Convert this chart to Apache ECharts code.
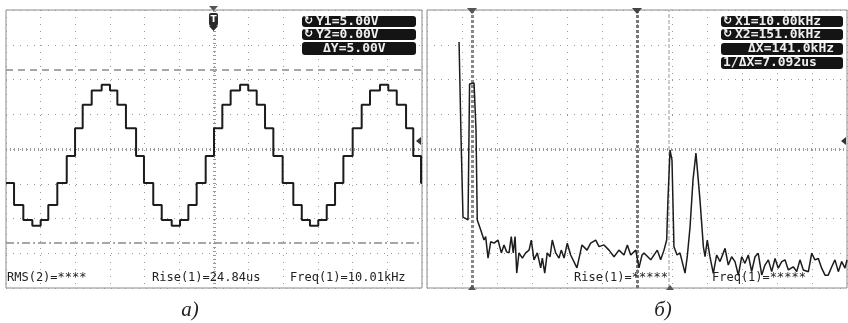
<!DOCTYPE html>
<html><head><meta charset="utf-8">
<script src="https://cdn.jsdelivr.net/npm/echarts@6/dist/echarts.min.js"></script>
<style>html,body{margin:0;padding:0;background:#fff}#c{width:848px;height:323px}</style>
</head><body><div id="c"></div>
<script>
// ---- Panel a): stepped sine (time in µs, level in V) ----
var waveTimes = [0, 5.8, 12.5, 19.0, 25.0, 30.5, 37.0, 43.8, 49.8, 55.3, 61.8, 69.0, 75.0, 80.3, 86.5, 93.8,
  99.5, 106.2, 112.3, 119.5, 125.5, 131.5, 137.5, 144.0, 150.0, 156.0, 162.0, 168.8, 174.7, 180.8, 186.8, 192.8,
  199.5, 207.2, 213.3, 219.2, 225.2, 231.3, 237.3, 243.3, 250.0, 256.5, 262.5, 269.7, 275.7, 281.8, 288.5, 293.7,
  299.3, 300];
var waveVolts = [1.73, 1.10, 0.67, 0.50, 0.67, 1.10, 1.73, 2.51, 3.31, 3.98, 4.39, 4.56, 4.39, 3.98, 3.31, 2.51,
  1.73, 1.10, 0.67, 0.50, 0.67, 1.10, 1.73, 2.51, 3.31, 3.98, 4.39, 4.56, 4.39, 3.98, 3.31, 2.51,
  1.73, 1.10, 0.67, 0.50, 0.67, 1.10, 1.73, 2.51, 3.31, 3.98, 4.39, 4.56, 4.39, 3.98, 3.31, 2.51,
  1.73, 1.73];
var cursorY = [5.00, 0.00];           // Y1, Y2 (V)
var leftBoxes = ['Y1=5.00V', 'Y2=0.00V', 'ΔY=5.00V'];
var leftBottom = ['RMS(2)=****', 'Rise(1)=24.84us', 'Freq(1)=10.01kHz'];

// ---- Panel б): spectrum (frequency kHz, level in divisions above bottom) ----
var spectrum = [[0.9,7.08],[2.3,4.35],[3.7,2.04],[7.3,1.96],[8.4,5.87],[11.6,5.90],[13.0,4.55],[13.9,1.96],
  [16.4,1.67],[18.7,1.38],[19.9,1.48],[21.6,0.86],[23.5,1.33],[25.9,1.29],[28.7,1.38],[31.1,1.01],[33.0,1.24],
  [34.9,1.04],[36.6,1.01],[38.2,1.48],[39.6,1.01],[40.9,1.48],[42.1,0.43],[43.7,1.01],[46.1,0.86],[48.5,1.01],
  [50.9,1.09],[52.5,1.38],[54.4,0.81],[56.8,1.01],[59.2,0.58],[60.4,0.86],[62.1,0.43],[63.9,1.01],[65.9,0.90],
  [67.5,1.38],[69.9,1.01],[72.3,0.86],[73.9,1.09],[75.9,0.86],[78.2,1.29],[80.6,0.95],[85.1,0.58],[88.7,1.24],
  [92.3,1.09],[94.9,1.29],[98.5,1.38],[100.9,1.19],[104.4,1.24],[108.0,1.09],[111.6,0.90],[115.1,1.09],
  [118.7,0.95],[121.1,1.24],[123.5,0.95],[127.1,1.09],[129.4,0.58],[131.6,0.95],[133.0,1.01],[137.8,0.81],
  [142.5,1.09],[144.9,0.81],[147.3,1.09],[149.2,1.38],[150.1,2.53],[151.6,3.97],[153.0,3.68],[154.4,1.19],
  [156.6,0.95],[158.7,1.01],[162.3,0.43],[163.9,0.90],[165.9,1.76],[168.0,3.11],[170.1,3.88],[173.0,2.53],
  [175.4,1.19],[176.6,0.90],[178.2,1.38],[180.1,0.90],[182.5,0.42],[184.9,0.95],[187.3,0.76],[190.9,1.14],
  [193.2,0.66],[195.6,0.90],[198.0,0.76],[200.4,0.37],[202.8,0.90],[205.1,0.71],[207.5,0.95],[209.9,0.47],
  [212.3,0.90],[214.6,1.00],[217.1,0.37],[219.4,0.66],[221.8,0.81],[224.2,0.47],[226.6,0.85],[228.9,0.57],
  [231.4,0.76],[233.7,0.81],[236.1,0.52],[239.6,0.61],[242.1,0.47],[244.4,0.81],[246.8,0.52],[250.4,0.47],
  [252.8,1.00],[255.1,0.81],[257.5,0.85],[259.9,0.57],[262.3,0.37],[264.6,0.37],[267.1,0.61],[269.4,0.81],
  [271.8,0.47],[274.2,0.76],[276.6,0.57],[278.0,0.81]];
var cursorX = [10.00, 151.0];         // X1, X2 (kHz)
var rightBoxes = ['X1=10.00kHz', 'X2=151.0kHz', 'ΔX=141.0kHz', '1/ΔX=7.092us'];
var rightBottom = ['Rise(1)=*****', 'Freq(1)=*****'];
var captions = ['а)', 'б)'];

var chart = echarts.init(document.getElementById('c'), null, {renderer: 'canvas'});

var dotLine = {show: true, lineStyle: {color: '#9a9a9a', width: 1, type: [1, 6]}};
function gratX(g) {
  return {gridIndex: g, type: 'value', min: -6, max: 6, interval: 1, axisLine: {show: false},
    axisTick: {show: false}, axisLabel: {show: false}, splitLine: dotLine};
}
function gratY(g) {
  return {gridIndex: g, type: 'value', min: -4, max: 4, interval: 1, axisLine: {show: false},
    axisTick: {show: false}, axisLabel: {show: false}, splitLine: dotLine};
}
function centerSeries(xi, yi, vStyle) {
  return {type: 'line', xAxisIndex: xi, yAxisIndex: yi, data: [[0, 0]], showSymbol: false, silent: true,
    lineStyle: {width: 0}, markLine: {silent: true, symbol: 'none', label: {show: false}, animation: false,
      data: [{xAxis: 0, lineStyle: vStyle}, {yAxis: 0, lineStyle: {color: '#999', width: 3, type: [1, 3]}}]}};
}

var waveData = waveTimes.map(function (t, i) { return [t, waveVolts[i]]; });

var graphics = [];
function box(x, y, w, h) {
  graphics.push({type: 'rect', shape: {x: x, y: y, width: w, height: h, r: 3}, style: {fill: '#141414'}, z: 100});
}
function txt(x, y, s, font, fill, align) {
  graphics.push({type: 'text', x: x, y: y, z: 101,
    style: {text: s, font: font, fill: fill, align: align || 'left', verticalAlign: 'middle'}});
}
var boxFont = 'bold 13px "DejaVu Sans Mono"';
var iconFont = 'bold 11px "DejaVu Sans"';
// left boxes
box(302, 16, 114, 11); box(302, 29, 114, 11); box(302, 42, 114, 13);
txt(304, 21.5, '↻', iconFont, '#fff'); txt(316, 22, leftBoxes[0], boxFont, '#eee');
txt(304, 34.5, '↻', iconFont, '#fff'); txt(316, 35, leftBoxes[1], boxFont, '#eee');
txt(323, 48.5, leftBoxes[2], boxFont, '#eee');
// right boxes
box(721, 16, 122, 11); box(721, 29, 122, 11); box(721, 43, 122, 12); box(721, 57, 122, 12);
txt(723, 21.5, '↻', iconFont, '#fff'); txt(735, 22, rightBoxes[0], boxFont, '#eee');
txt(723, 34.5, '↻', iconFont, '#fff'); txt(735, 35, rightBoxes[1], boxFont, '#eee');
txt(748, 49, rightBoxes[2], boxFont, '#eee');
txt(723, 63, rightBoxes[3], boxFont, '#eee');
// bottom readouts
var botFont = '12px "DejaVu Sans Mono"';
txt(7, 278, leftBottom[0], botFont, '#222');
txt(152, 278, leftBottom[1], botFont, '#222');
txt(290, 278, leftBottom[2], botFont, '#222');
txt(574, 278, rightBottom[0], botFont, '#222');
txt(712, 278, rightBottom[1], botFont, '#222');
// captions
txt(190, 310, captions[0], 'italic 21px "Liberation Serif"', '#222', 'center');
txt(663, 310, captions[1], 'italic 21px "Liberation Serif"', '#222', 'center');
// markers
graphics.push({type: 'rect', shape: {x: 209, y: 13, width: 9, height: 13, r: 2}, style: {fill: '#2a2a2a'}, z: 100});
txt(213.5, 19.5, 'T', 'bold 9px "DejaVu Sans"', '#fff', 'center');
graphics.push({type: 'polygon', shape: {points: [[209, 26], [218, 26], [213.5, 31]]}, style: {fill: '#2a2a2a'}, z: 100});
graphics.push({type: 'polygon', shape: {points: [[209, 6], [218, 6], [213.5, 11]]}, style: {fill: '#555'}, z: 100});
graphics.push({type: 'polygon', shape: {points: [[467, 8], [477, 8], [472, 14]]}, style: {fill: '#555'}, z: 100});
graphics.push({type: 'polygon', shape: {points: [[632, 8], [642, 8], [637, 14]]}, style: {fill: '#444'}, z: 100});
graphics.push({type: 'polygon', shape: {points: [[468, 290], [476, 290], [472, 285]]}, style: {fill: '#555'}, z: 100});
graphics.push({type: 'polygon', shape: {points: [[666, 290], [674, 290], [670, 285]]}, style: {fill: '#555'}, z: 100});
graphics.push({type: 'polygon', shape: {points: [[421, 137], [421, 145], [416, 141]]}, style: {fill: '#333'}, z: 100});
graphics.push({type: 'polygon', shape: {points: [[846, 137], [846, 145], [841, 141]]}, style: {fill: '#333'}, z: 100});

chart.setOption({
  animation: false,
  backgroundColor: '#fff',
  grid: [
    {left: 6, top: 10, width: 416, height: 278, show: true, borderColor: '#8a8a8a', borderWidth: 1, backgroundColor: '#fff'},
    {left: 427, top: 10, width: 420, height: 278, show: true, borderColor: '#8a8a8a', borderWidth: 1, backgroundColor: '#fff'}
  ],
  xAxis: [
    {gridIndex: 0, type: 'value', min: 0, max: 300, show: false},
    gratX(0),
    {gridIndex: 1, type: 'value', min: -22, max: 278, show: false},
    gratX(1)
  ],
  yAxis: [
    {gridIndex: 0, type: 'value', min: -1.29, max: 6.71, show: false},
    gratY(0),
    {gridIndex: 1, type: 'value', min: 0, max: 8, show: false},
    gratY(1)
  ],
  series: [
    centerSeries(1, 1, {color: '#999', width: 3, type: [1, 3]}),
    centerSeries(3, 3, {color: '#777', width: 3, type: [3, 2]}),
    {type: 'line', xAxisIndex: 0, yAxisIndex: 0, data: waveData, step: 'end', showSymbol: false,
      lineStyle: {color: '#1c1c1c', width: 2}, z: 5,
      markLine: {silent: true, symbol: 'none', label: {show: false},
        data: [{yAxis: cursorY[0], lineStyle: {color: '#8a8a8a', width: 1.5, type: [7, 5]}},
               {yAxis: cursorY[1], lineStyle: {color: '#8a8a8a', width: 1.5, type: [8, 3, 2, 3]}}]}},
    {type: 'line', xAxisIndex: 2, yAxisIndex: 2, data: spectrum, showSymbol: false,
      lineStyle: {color: '#1c1c1c', width: 1.5}, z: 5,
      markLine: {silent: true, symbol: 'none', label: {show: false},
        data: [{xAxis: cursorX[0], lineStyle: {color: '#888', width: 3, type: [3, 2]}},
               {xAxis: cursorX[1], lineStyle: {color: '#bbb', width: 1.5, type: [4, 2]}}]}}
  ],
  graphic: graphics
});
</script></body></html>
